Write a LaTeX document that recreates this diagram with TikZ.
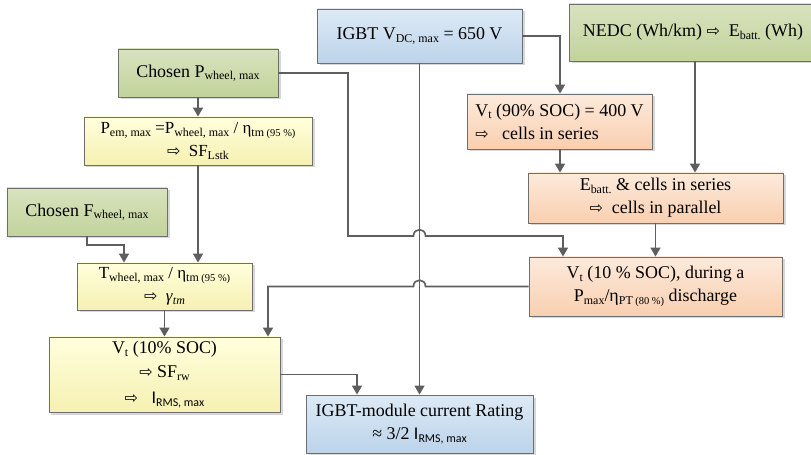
\documentclass[tikz,border=0pt]{standalone}
\usepackage{fontspec}
\setmainfont{Liberation Serif}
\newfontfamily\symf{DejaVu Sans}
\newfontfamily\calib{Carlito}
\usetikzlibrary{arrows.meta,shadows}
\newcommand\sbs[1]{\raisebox{-0.3ex}{\fontsize{12}{12}\selectfont #1}}
\newcommand\ssbs[1]{\raisebox{-0.3ex}{\fontsize{10.5}{10.5}\selectfont #1}}
\newcommand\arrw{{\symf\fontsize{16}{16}\selectfont ⇨}}
\definecolor{linecol}{HTML}{5E5E5E}
\definecolor{boxline}{HTML}{6E6E6E}
\definecolor{bluetop}{HTML}{DDEAF6}
\definecolor{bluebot}{HTML}{BCD3EA}
\definecolor{greentop}{HTML}{D8E3BE}
\definecolor{greenbot}{HTML}{C2D39C}
\definecolor{yeltop}{HTML}{FFFFDC}
\definecolor{yelbot}{HTML}{F6F0B2}
\definecolor{ortop}{HTML}{FDEADB}
\definecolor{orbot}{HTML}{F9CFB0}
\tikzset{
  box/.style={draw=boxline, line width=0.9bp, rectangle, inner sep=0pt, align=center,
    font=\fontsize{18}{23}\selectfont,
    drop shadow={shadow xshift=2.5bp, shadow yshift=-2.5bp, fill=black!30, opacity=0.5}},
  bluebox/.style={box, top color=bluetop, bottom color=bluebot},
  greenbox/.style={box, top color=greentop, bottom color=greenbot},
  yelbox/.style={box, top color=yeltop, bottom color=yelbot},
  orbox/.style={box, top color=ortop, bottom color=orbot},
  conn/.style={draw=linecol, line width=1.6bp},
  arr/.style={conn, -{Triangle[length=9bp,width=10bp]}}
}
\begin{document}
\begin{tikzpicture}[x=1bp,y=-1bp]
\fill[white] (0,0) rectangle (811,455);
\useasboundingbox (0,0) rectangle (811,455);
% boxes
\node[bluebox, minimum width=205bp, minimum height=54bp] (igbt) at (419.5,36) {IGBT V\sbs{DC, max} = 650 V};
\node[greenbox, minimum width=248bp, minimum height=57bp] (nedc) at (693,32.5) {NEDC (Wh/km) \arrw\ \ E\sbs{batt.} (Wh)};
\node[greenbox, minimum width=160bp, minimum height=48bp] (choseP) at (198,73) {Chosen P\sbs{wheel, max}};
\node[yelbox, minimum width=228bp, minimum height=48bp, font=\fontsize{17}{23}\selectfont] (pem) at (198,141)
  {P\sbs{em, max} =P\sbs{wheel, max} / η\sbs{tm}\ssbs{ (95 \%)}\\ \arrw\ \ SF\sbs{Lstk}};
\node[greenbox, minimum width=160bp, minimum height=48bp] (choseF) at (87,212) {Chosen F\sbs{wheel, max}};
\node[orbox, align=left, minimum width=185bp, minimum height=55bp] (vt90) at (559.5,121.5)
  {V\sbs{t} (90\% SOC) = 400 V\\ \arrw\ \ \ cells in series};
\node[orbox, minimum width=255bp, minimum height=50bp] (ebatt) at (655.5,198)
  {E\sbs{batt.} \& cells in series\\ \arrw\ \ cells in parallel};
\node[orbox, minimum width=253bp, minimum height=59bp] (vt10d) at (655.5,286.5)
  {V\sbs{t} (10 \% SOC), during a\\ P\sbs{max}/η\sbs{PT}\ssbs{ (80 \%)} discharge};
\node[yelbox, minimum width=175bp, minimum height=47bp, font=\fontsize{17}{23}\selectfont] (twheel) at (164.5,286.5)
  {T\sbs{wheel, max} / η\sbs{tm}\ssbs{ (95 \%)}\\ \arrw\ \ \textit{γ}\sbs{\textit{tm}}};
\node[yelbox, minimum width=231bp, minimum height=75bp, font=\fontsize{18}{24}\selectfont] (vtsf) at (164.5,374.5)
  {V\sbs{t} (10\% SOC)\\ \arrw\ SF\sbs{rw}\\[2bp] \arrw\ \ \ {\calib I\sbs{RMS, max}}};
\node[bluebox, minimum width=227bp, minimum height=58bp] (igbtmod) at (419.5,424)
  {IGBT-module current Rating\\ ≈ 3/2 {\calib I\sbs{RMS, max}}};
% coordinates
\coordinate (b1) at (348,73);
\coordinate (b2) at (348,236);
\coordinate (h1) at (413.5,236);
\coordinate (h2) at (425.5,236);
\coordinate (b3) at (563,236);
\coordinate (c1) at (560,36);
\coordinate (n1) at (695,61);
\coordinate (e1) at (425.5,286.5);
\coordinate (e2) at (413.5,286.5);
\coordinate (e3) at (268,286.5);
\coordinate (f1) at (198,165);
\coordinate (g1) at (87,245);
\coordinate (g2) at (124,245);
\coordinate (k1) at (357,374.5);
% connectors
\draw[arr] (choseP) -- (pem);
\draw[arr] (choseP.east) -- (b1) -- (b2) -- (h1) .. controls (413.5,227.5) and (425.5,227.5) .. (h2) -- (b3) -- (b3 |- vt10d.north);
\draw[arr] (igbt.east) -- (c1) -- (c1 |- vt90.north);
\draw[arr] (n1 |- nedc.south) -- (n1 |- ebatt.north);
\draw[arr] (c1 |- vt90.south) -- (c1 |- ebatt.north);
\draw[arr] (ebatt) -- (vt10d);
\draw[arr] (vt10d.west) -- (e1) .. controls (425.5,278) and (413.5,278) .. (e2) -- (e3) -- (e3 |- vtsf.north);
\draw[arr] (f1 |- pem.south) -- (f1 |- twheel.north);
\draw[arr] (g1 |- choseF.south) -- (g1) -- (g2) -- (g2 |- twheel.north);
\draw[arr] (twheel) -- (vtsf);
\draw[arr] (vtsf.east) -- (k1) -- (k1 |- igbtmod.north);
\draw[arr] (igbt) -- (igbtmod);
\end{tikzpicture}
\end{document}
